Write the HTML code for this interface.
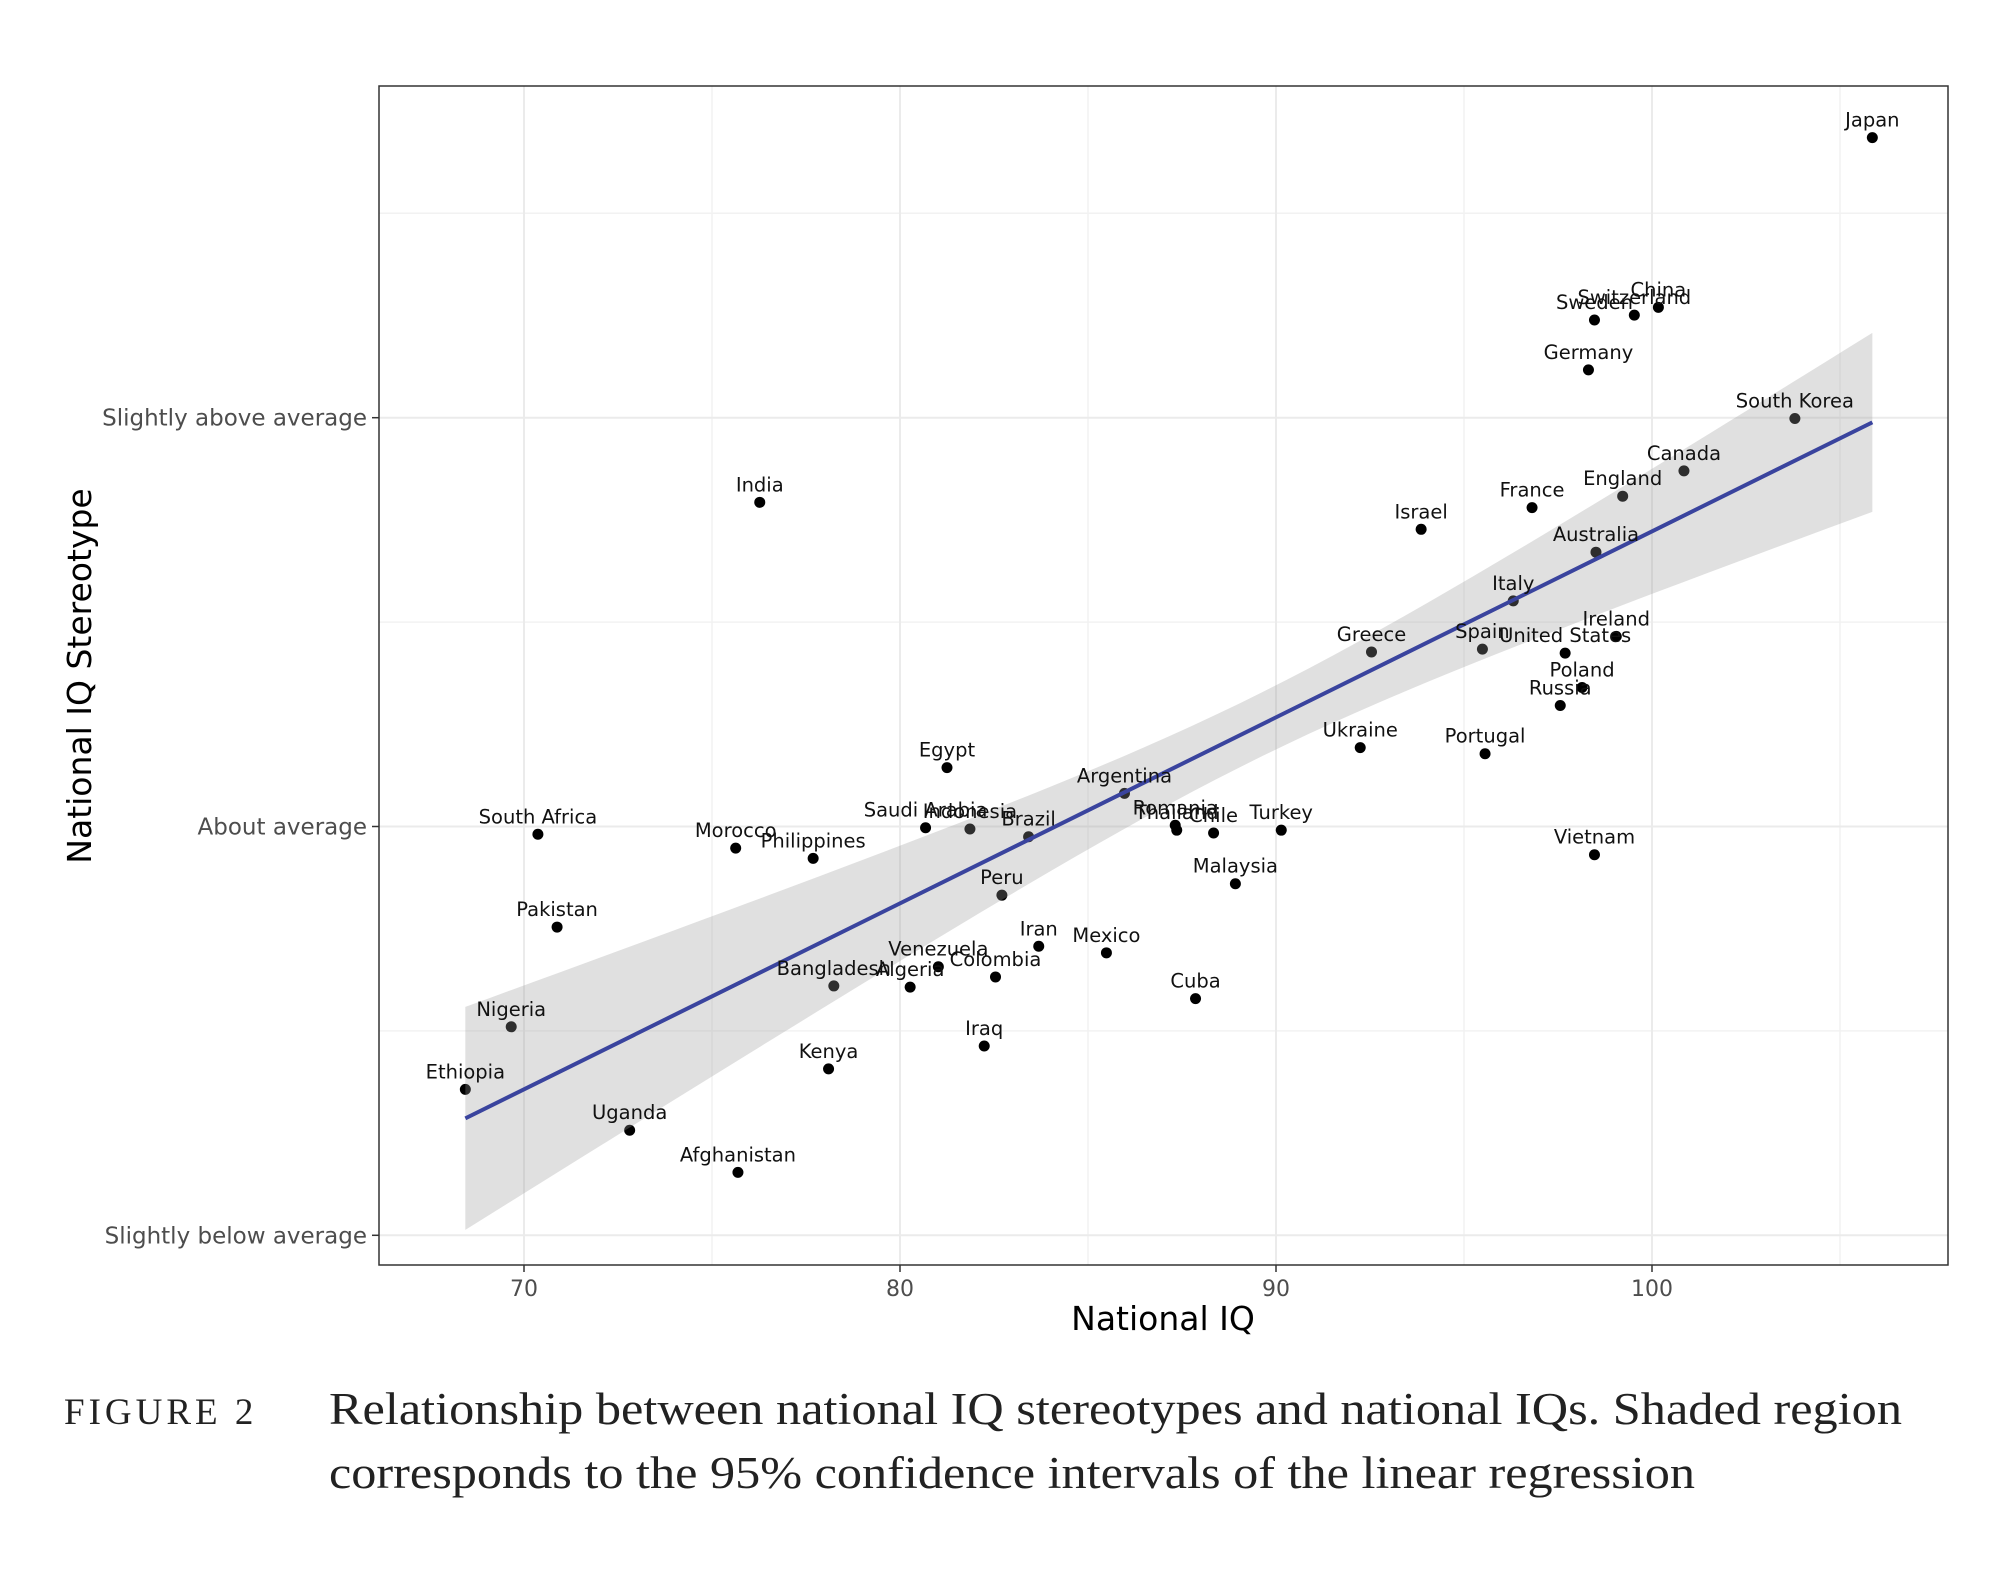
<!DOCTYPE html>
<html><head><meta charset="utf-8"><style>
html,body{margin:0;padding:0;background:#fff;}
svg{display:block;}
</style></head><body>
<svg id="chart" width="2000" height="1576" viewBox="0 0 2000 1576" xmlns="http://www.w3.org/2000/svg" font-family="'DejaVu Sans', 'Liberation Sans', sans-serif">
<rect x="0" y="0" width="2000" height="1576" fill="#fff"/>
<g id="grid"></g>
<g id="points"></g>
<g id="ribbon"></g>
<g id="fit"></g>
<g id="labels"></g>
<rect x="379" y="86" width="1569" height="1179" fill="none" stroke="#333" stroke-width="1.5"/>
<g id="axes"></g>
<text x="1163" y="1330" font-size="33" text-anchor="middle" fill="#000">National IQ</text>
<text transform="translate(91,676) rotate(-90)" font-size="33" text-anchor="middle" fill="#000">National IQ Stereotype</text>
<text x="64" y="1424" font-family="'Liberation Serif', serif" font-size="37" letter-spacing="4" fill="#222">FIGURE 2</text>
<text x="329" y="1424" font-family="'Liberation Serif', serif" font-size="45" fill="#222" textLength="1573" lengthAdjust="spacingAndGlyphs">Relationship between national IQ stereotypes and national IQs. Shaded region</text>
<text x="329" y="1488" font-family="'Liberation Serif', serif" font-size="45" fill="#222" textLength="1366" lengthAdjust="spacingAndGlyphs">corresponds to the 95% confidence intervals of the linear regression</text>
</svg>
<script>
const countries = ["Japan","China","Switzerland","Sweden","Germany","South Korea","Canada","England","France","Israel","Australia","Italy","Ireland","Greece","Spain","United States","Poland","Russia","Ukraine","Portugal","Egypt","Argentina","Romania","Thailand","Chile","Turkey","Saudi Arabia","Indonesia","Brazil","South Africa","Morocco","Philippines","Vietnam","Malaysia","Peru","Pakistan","Iran","Mexico","Venezuela","Colombia","Bangladesh","Algeria","Cuba","Nigeria","Iraq","Kenya","Ethiopia","Uganda","Afghanistan","India"];
const iqValues = [105.86,100.17,99.53,98.47,98.31,103.8,100.85,99.22,96.81,93.86,98.51,96.31,99.05,92.54,95.49,97.69,98.14,97.56,92.24,95.56,81.25,85.97,87.32,87.36,88.34,90.14,80.68,81.86,83.42,70.37,75.63,77.69,98.47,88.92,82.71,70.88,83.69,85.49,81.02,82.54,78.24,80.27,87.86,69.66,82.24,78.10,68.44,72.81,75.69,76.27];
const stereotypeValues = [1.685,1.27,1.251,1.239,1.117,0.998,0.870,0.808,0.780,0.727,0.671,0.552,0.465,0.427,0.434,0.424,0.340,0.296,0.193,0.178,0.144,0.081,0.003,-0.009,-0.016,-0.009,-0.003,-0.006,-0.025,-0.019,-0.053,-0.078,-0.069,-0.140,-0.168,-0.246,-0.293,-0.309,-0.343,-0.368,-0.390,-0.393,-0.421,-0.490,-0.537,-0.593,-0.643,-0.743,-0.846,0.793];
const xTicks = [70,80,90,100];
const xMinor = [75,85,95,105];
const yTicks = [1,0,-1];
const yTickLabels = ["Slightly above average","About average","Slightly below average"];
const yMinor = [1.5,0.5,-0.5];
const fitIntercept = -0.714 - 0.0455*68.44;
const fitSlope = 0.0455;
const ciA = 0.0061, ciB = 0.000155, ciCenter = 89.43;

const NS = "http://www.w3.org/2000/svg";
const X = v => 524 + (v - 70) * 37.6;
const Y = v => 826.5 - v * 408.8;
function mk(tag, attrs, parent){ const e=document.createElementNS(NS,tag); for(const k in attrs) e.setAttribute(k,attrs[k]); parent.appendChild(e); return e; }

const grid=document.getElementById('grid');
mk('rect',{x:379,y:86,width:1569,height:1179,fill:'#fff'},grid);
xMinor.forEach(v=>{ const l=mk('line',{x1:X(v),x2:X(v),y1:86,y2:1265,stroke:'#f2f2f2','stroke-width':1.5},grid);

 });
yMinor.forEach(v=>{ const l=mk('line',{x1:379,x2:1948,y1:Y(v),y2:Y(v),stroke:'#f2f2f2','stroke-width':1.5},grid);

 });
xTicks.forEach(v=>{ const l=mk('line',{x1:X(v),x2:X(v),y1:86,y2:1265,stroke:'#ebebeb','stroke-width':2},grid);

 });
yTicks.forEach(v=>{ const l=mk('line',{x1:379,x2:1948,y1:Y(v),y2:Y(v),stroke:'#ebebeb','stroke-width':2},grid);

 });

const pts=document.getElementById('points');
iqValues.forEach((v,i)=>{ const c=mk('circle',{cx:X(v),cy:Y(stereotypeValues[i]),r:5.5,fill:'#000'},pts);

 });

const xmin=Math.min(...iqValues), xmax=Math.max(...iqValues);
let up=[], lo=[];
for(let k=0;k<=60;k++){ const x=xmin+(xmax-xmin)*k/60; const f=fitIntercept+fitSlope*x; const h=Math.sqrt(ciA+ciB*(x-ciCenter)**2);
up.push(X(x)+','+Y(f+h)); lo.unshift(X(x)+','+Y(f-h)); }
const rib=mk('polygon',{points:up.concat(lo).join(' '),fill:'#999','fill-opacity':0.3},document.getElementById('ribbon'));


const fl=mk('line',{x1:X(xmin),y1:Y(fitIntercept+fitSlope*xmin),x2:X(xmax),y2:Y(fitIntercept+fitSlope*xmax),stroke:'#3a449e','stroke-width':4},document.getElementById('fit'));



const lab=document.getElementById('labels');
iqValues.forEach((v,i)=>{ const t=mk('text',{x:X(v),y:Y(stereotypeValues[i])-11,'font-size':19.5,'text-anchor':'middle',fill:'#111'},lab);
t.textContent=countries[i];

 });

const ax=document.getElementById('axes');
xTicks.forEach(v=>{ mk('line',{x1:X(v),x2:X(v),y1:1265,y2:1272,stroke:'#333','stroke-width':1.5},ax);
const t=mk('text',{x:X(v),y:1296,'font-size':22,'text-anchor':'middle',fill:'#4d4d4d'},ax); t.textContent=v;

 });
yTicks.forEach((v,i)=>{ mk('line',{x1:372,x2:379,y1:Y(v),y2:Y(v),stroke:'#333','stroke-width':1.5},ax);
const t=mk('text',{x:367,y:Y(v)+8,'font-size':23,'text-anchor':'end',fill:'#4d4d4d'},ax); t.textContent=yTickLabels[i];

 });
</script>
</body></html>
